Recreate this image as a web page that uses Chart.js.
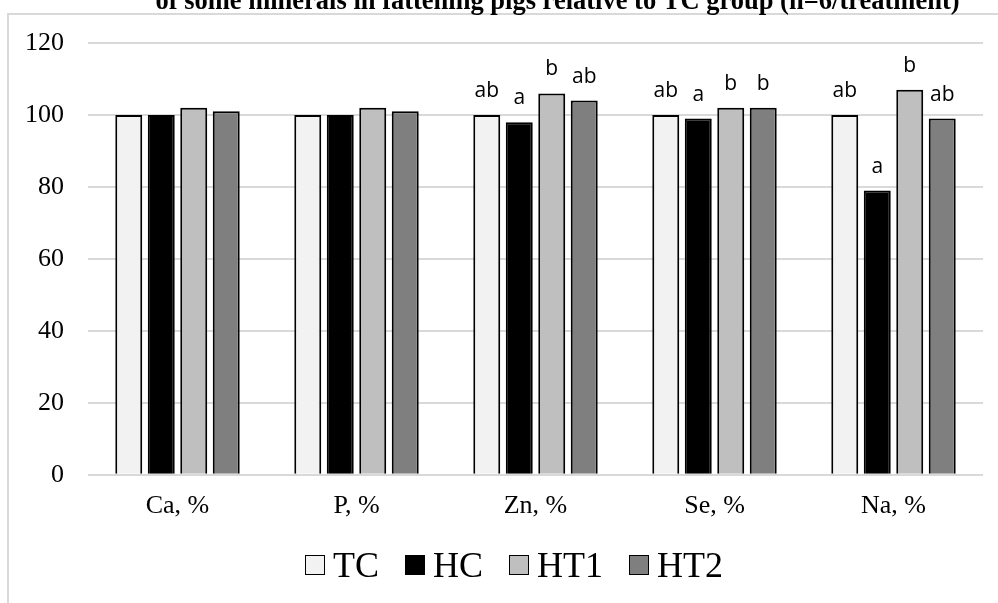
<!DOCTYPE html>
<html>
<head>
<meta charset="utf-8">
<script src="https://cdn.jsdelivr.net/npm/chart.js@4/dist/chart.umd.min.js"></script>
<style>
  html, body { margin: 0; padding: 0; background: #ffffff; }
  #wrap { position: relative; width: 998px; height: 603px; overflow: hidden; }
  #chart { position: absolute; left: 0; top: 0; }
  #legend {
    position: absolute; left: 305px; top: 547px; height: 36px;
    display: flex; align-items: center;
    font-family: "Liberation Serif", "Times New Roman", serif; font-size: 36px; line-height: 36px; color: #000;
  }
  .item { display: flex; align-items: center; margin-right: 26px; }
  .swatch { width: 20px; height: 20px; box-sizing: border-box; border: 1.5px solid #000; margin-right: 8px; }
</style>
</head>
<body>
<div id="wrap">
  <canvas id="chart" width="998" height="603"></canvas>
  <div id="legend"></div>
</div>
<script>
// Mineral content per group, % relative to the TC group
const categories = ['Ca, %', 'P, %', 'Zn, %', 'Se, %', 'Na, %'];
const seriesNames = ['TC', 'HC', 'HT1', 'HT2'];
const seriesColors = ['#f2f2f2', '#000000', '#bfbfbf', '#7f7f7f'];

const tcValues  = [100, 100, 100, 100, 100];
const hcValues  = [100, 100,  98,  99,  79];
const ht1Values = [102, 102, 106, 102, 107];
const ht2Values = [101, 101, 104, 102,  99];

// Significance letters shown above each bar
const tcLetters  = ['', '', 'ab', 'ab', 'ab'];
const hcLetters  = ['', '', 'a',  'a',  'a'];
const ht1Letters = ['', '', 'b',  'b',  'b'];
const ht2Letters = ['', '', 'ab', 'b',  'ab'];

const yMin = 0, yMax = 120, yStep = 20;

const titleText = 'of some minerals in fattening pigs relative to TC group (n=6/treatment)';

const seriesValues = [tcValues, hcValues, ht1Values, ht2Values];
const seriesLetters = [tcLetters, hcLetters, ht1Letters, ht2Letters];

const serif = '"Liberation Serif", "Times New Roman", serif';

// Outer frame and the heading line above it
const framePlugin = {
  id: 'frame',
  beforeDraw(chart) {
    const ctx = chart.ctx;
    ctx.save();
    ctx.strokeStyle = '#d9d9d9';
    ctx.lineWidth = 2;
    ctx.strokeRect(8, 14, 2000, 2000);
    ctx.fillStyle = '#000';
    ctx.font = 'bold 26.5px ' + serif;
    ctx.textAlign = 'center';
    ctx.textBaseline = 'alphabetic';
    ctx.fillText(titleText, 557.5, 9);
    ctx.restore();
  }
};

// Letters written above the bars
const lettersPlugin = {
  id: 'letters',
  afterDatasetsDraw(chart) {
    const ctx = chart.ctx;
    ctx.save();
    ctx.fillStyle = '#000';
    ctx.font = '21px "Open Sans", "DejaVu Sans", sans-serif';
    ctx.textAlign = 'center';
    ctx.textBaseline = 'alphabetic';
    chart.data.datasets.forEach((ds, di) => {
      const meta = chart.getDatasetMeta(di);
      meta.data.forEach((bar, i) => {
        const t = seriesLetters[di][i];
        if (t) ctx.fillText(t, bar.x, bar.y - 18);
      });
    });
    ctx.restore();
  }
};

new Chart(document.getElementById('chart'), {
  type: 'bar',
  data: {
    labels: categories,
    datasets: seriesNames.map((name, k) => ({
      label: name,
      data: seriesValues[k],
      backgroundColor: seriesColors[k],
      borderColor: '#000000',
      borderWidth: 2,
      categoryPercentage: 0.726,
      barPercentage: 0.83
    }))
  },
  options: {
    responsive: false,
    animation: false,
    devicePixelRatio: 1,
    layout: { padding: { left: 1, right: 15, top: 43, bottom: 65 } },
    plugins: {
      legend: { display: false },
      title: { display: false },
      tooltip: { enabled: false }
    },
    scales: {
      x: {
        grid: { display: false, drawTicks: false },
        border: { display: false },
        ticks: {
          color: '#000',
          padding: 16,
          font: { family: serif, size: 26 }
        }
      },
      y: {
        min: yMin,
        max: yMax,
        grid: { color: '#d9d9d9', lineWidth: 2, drawTicks: false },
        border: { display: false },
        ticks: {
          stepSize: yStep,
          color: '#000',
          padding: 24,
          font: { family: serif, size: 26 }
        }
      }
    }
  },
  plugins: [framePlugin, lettersPlugin]
});

// Legend built from the series names and colours
const legend = document.getElementById('legend');
seriesNames.forEach((name, k) => {
  const item = document.createElement('div');
  item.className = 'item';
  const sw = document.createElement('span');
  sw.className = 'swatch';
  sw.style.background = seriesColors[k];
  const label = document.createElement('span');
  label.textContent = name;
  item.appendChild(sw);
  item.appendChild(label);
  legend.appendChild(item);
});
</script>
</body>
</html>
